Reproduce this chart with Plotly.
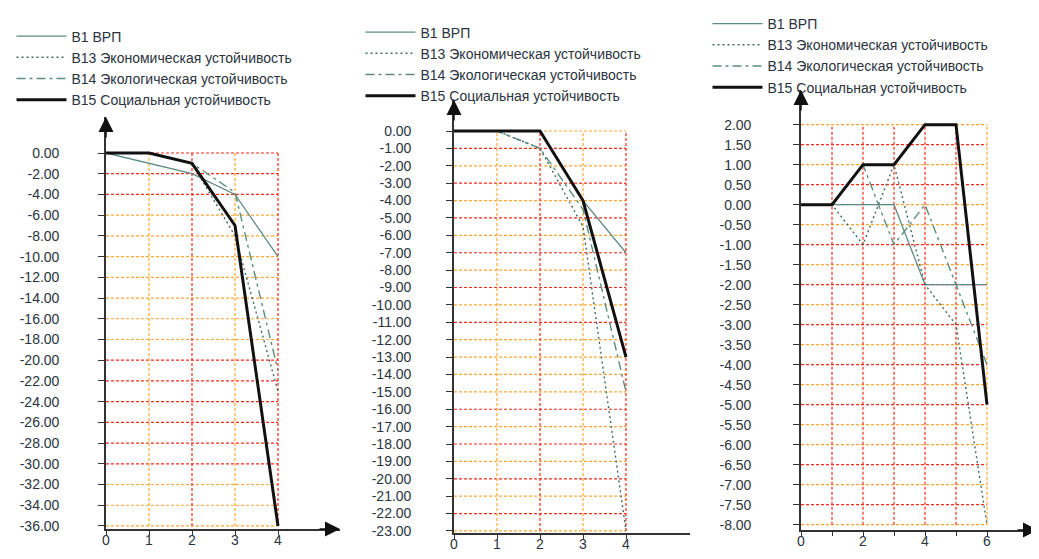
import plotly.graph_objects as go

# ---------------- data ----------------
SERIES = ["B1 ВРП", "B13 Экономическая устойчивость",
          "B14 Экологическая устойчивость", "B15 Социальная устойчивость"]

# panel 1
p1_x = [0, 1, 2, 3, 4]
p1_b1 = [0, -1, -2, -4, -10]
p1_b13 = [0, 0, -1, -8, -23]
p1_b14 = [0, 0, -1, -3.8, -21]
p1_b15 = [0, 0, -1, -7, -36]
p1_yticks = [0, -2, -4, -6, -8, -10, -12, -14, -16, -18, -20, -22, -24,
             -26, -28, -30, -32, -34, -36]
p1_xticks = [0, 1, 2, 3, 4]
p1_xlabels = ["0", "1", "2", "3", "4"]

# panel 2
p2_x = [0, 1, 2, 3, 4]
p2_b1 = [0, 0, 0, -4, -7]
p2_b13 = [0, 0, -1, -5.5, -23]
p2_b14 = [0, 0, -1, -4.5, -15]
p2_b15 = [0, 0, 0, -4, -13]
p2_yticks = [0, -1, -2, -3, -4, -5, -6, -7, -8, -9, -10, -11, -12, -13, -14,
             -15, -16, -17, -18, -19, -20, -21, -22, -23]
p2_xticks = [0, 1, 2, 3, 4]
p2_xlabels = ["0", "1", "2", "3", "4"]

# panel 3
p3_x = [0, 1, 2, 3, 4, 5, 6]
p3_b1 = [0, 0, 0, 0, -2, -2, -2]
p3_b13 = [0, 0, -1, 1, -2, -3, -8]
p3_b14 = [0, 0, 1, -1, 0, -2, -4]
p3_b15 = [0, 0, 1, 1, 2, 2, -5]
p3_yticks = [2, 1.5, 1, 0.5, 0, -0.5, -1, -1.5, -2, -2.5, -3, -3.5, -4, -4.5,
             -5, -5.5, -6, -6.5, -7, -7.5, -8]
p3_xticks = [0, 1, 2, 3, 4, 5, 6]
p3_xlabels = ["0", "", "2", "", "4", "", "6"]

# ---------------- style ----------------
PAGE_W, PAGE_H = 1039, 559
OFF = 8                      # default body margin of the html page
W, H = PAGE_W - OFF, PAGE_H - OFF
RED, ORG = "#ff2a1a", "#ffa733"
FONT = "Liberation Sans, Arial, sans-serif"
TXT = "#2b3340"
STYLES = [
    dict(color="#5d8c84", width=1.3),
    dict(color="#3f6a5e", width=1.4, dash="2px,3px"),
    dict(color="#5b8f7c", width=1.4, dash="9px,4px,3px,4px"),
    dict(color="#111111", width=3),
]


def fx(px):
    return (px - OFF) / W


def fy(py):
    return (PAGE_H - py) / H


R, O = RED, ORG
panels = [
    dict(x=p1_x, ys=[p1_b1, p1_b13, p1_b14, p1_b15], yt=p1_yticks,
         xt=p1_xticks, xl=p1_xlabels,
         px0=106, px1=340, py_top=117, py_bot=529, y0px=153, yupx=10.36,
         xupx=43, xmax=4, ystand=36,
         hcol=[R, R, R, O, O, O, O, O, O, O, R, R, R, R, R, R, O, O, O],
         vcol=[O, R, O, R], xarrow=True,
         leg=dict(x=11.5, y=20.5)),
    dict(x=p2_x, ys=[p2_b1, p2_b13, p2_b14, p2_b15], yt=p2_yticks,
         xt=p2_xticks, xl=p2_xlabels,
         px0=454, px1=690, py_top=100, py_bot=533, y0px=131, yupx=17.39,
         xupx=43, xmax=4, ystand=32,
         hcol=[O, R, O, R, O, R, O, R, O, R, O, R, O, O, O, O, R, O, R, O,
               R, O, R, O],
         vcol=[O, R, O, R], xarrow=False,
         leg=dict(x=360.5, y=16.5)),
    dict(x=p3_x, ys=[p3_b1, p3_b13, p3_b14, p3_b15], yt=p3_yticks,
         xt=p3_xticks, xl=p3_xlabels,
         px0=801, px1=1038, py_top=90, py_bot=530, y0px=204.7, yupx=40,
         xupx=31, xmax=6, ystand=39,
         hcol=[O, R, O, R, O, O, R, O, R, O, R, O, R, O, R, O, O, R, O, R, O],
         vcol=[R, R, R, R, R, O], xarrow=True,
         leg=dict(x=707.5, y=8)),
]

fig = go.Figure()
layout = dict(width=W, height=H, margin=dict(l=0, r=0, t=0, b=0, pad=0),
              paper_bgcolor="white", plot_bgcolor="white",
              font=dict(family=FONT, size=14, color=TXT),
              showlegend=True)
shapes, annots = [], []

for i, p in enumerate(panels):
    n = "" if i == 0 else str(i + 1)
    xa, ya = "x" + n, "y" + n
    leg = "legend" + n
    for name, ys, st in zip(SERIES, p["ys"], STYLES):
        fig.add_trace(go.Scatter(x=p["x"], y=ys, name=name, mode="lines",
                                 line=st, xaxis=xa, yaxis=ya, legend=leg,
                                 hoverinfo="skip"))
    xr = [0, (p["px1"] - p["px0"]) / p["xupx"]]
    yr = [-(p["py_bot"] - p["y0px"]) / p["yupx"],
          (p["y0px"] - p["py_top"]) / p["yupx"]]
    layout["xaxis" + n] = dict(
        domain=[fx(p["px0"]), fx(p["px1"])], range=xr, anchor=ya,
        automargin=False, showgrid=False, zeroline=False, showline=True,
        linecolor="#333", linewidth=1.6, ticks="outside", ticklen=4,
        tickcolor="#333", tickvals=p["xt"], ticktext=p["xl"],
        ticklabelstandoff=-7, fixedrange=True,
        tickfont=dict(size=14, color=TXT))
    layout["yaxis" + n] = dict(
        domain=[fy(p["py_bot"]), fy(p["py_top"])], range=yr,
        anchor=xa, automargin=False, showgrid=False, zeroline=False,
        showline=True, linecolor="#333", linewidth=1.6, ticks="outside",
        ticklen=6, tickcolor="#333", tickvals=p["yt"],
        ticktext=[f"{v:.2f}" for v in p["yt"]],
        ticklabelstandoff=p["ystand"], fixedrange=True,
        tickfont=dict(size=14, color=TXT))
    ymin = min(p["yt"])
    ymax = max(p["yt"])
    # grid lines
    for yv, c in zip(p["yt"], p["hcol"]):
        shapes.append(dict(type="line", xref=xa, yref=ya, x0=0, x1=p["xmax"],
                           y0=yv, y1=yv, layer="below",
                           line=dict(color=c, width=1.2, dash="3px,2px")))
    for xv, c in zip(range(1, p["xmax"] + 1), p["vcol"]):
        shapes.append(dict(type="line", xref=xa, yref=ya, x0=xv, x1=xv,
                           y0=ymin, y1=ymax, layer="below",
                           line=dict(color=c, width=1.2, dash="3px,2px")))
    # axis arrow heads
    annots.append(dict(x=0, y=yr[1], xref=xa, yref=ya, ax=0, ay=22,
                       showarrow=True, arrowhead=2, arrowsize=2,
                       arrowwidth=1.5, arrowcolor="#111", text=""))
    if p["xarrow"]:
        annots.append(dict(x=xr[1], y=yr[0], xref=xa, yref=ya, ax=-22, ay=0,
                           showarrow=True, arrowhead=2, arrowsize=2,
                           arrowwidth=1.5, arrowcolor="#111", text=""))
    layout[leg] = dict(x=fx(p["leg"]["x"]), y=min(1.0, fy(p["leg"]["y"])),
                       xref="paper", yref="paper", xanchor="left",
                       yanchor="top", bgcolor="rgba(0,0,0,0)", borderwidth=0,
                       font=dict(size=14, color=TXT, family=FONT),
                       itemwidth=50, tracegroupgap=0, traceorder="normal")

layout["shapes"] = shapes
layout["annotations"] = annots
fig.update_layout(**layout)
fig.write_html("out.html")
